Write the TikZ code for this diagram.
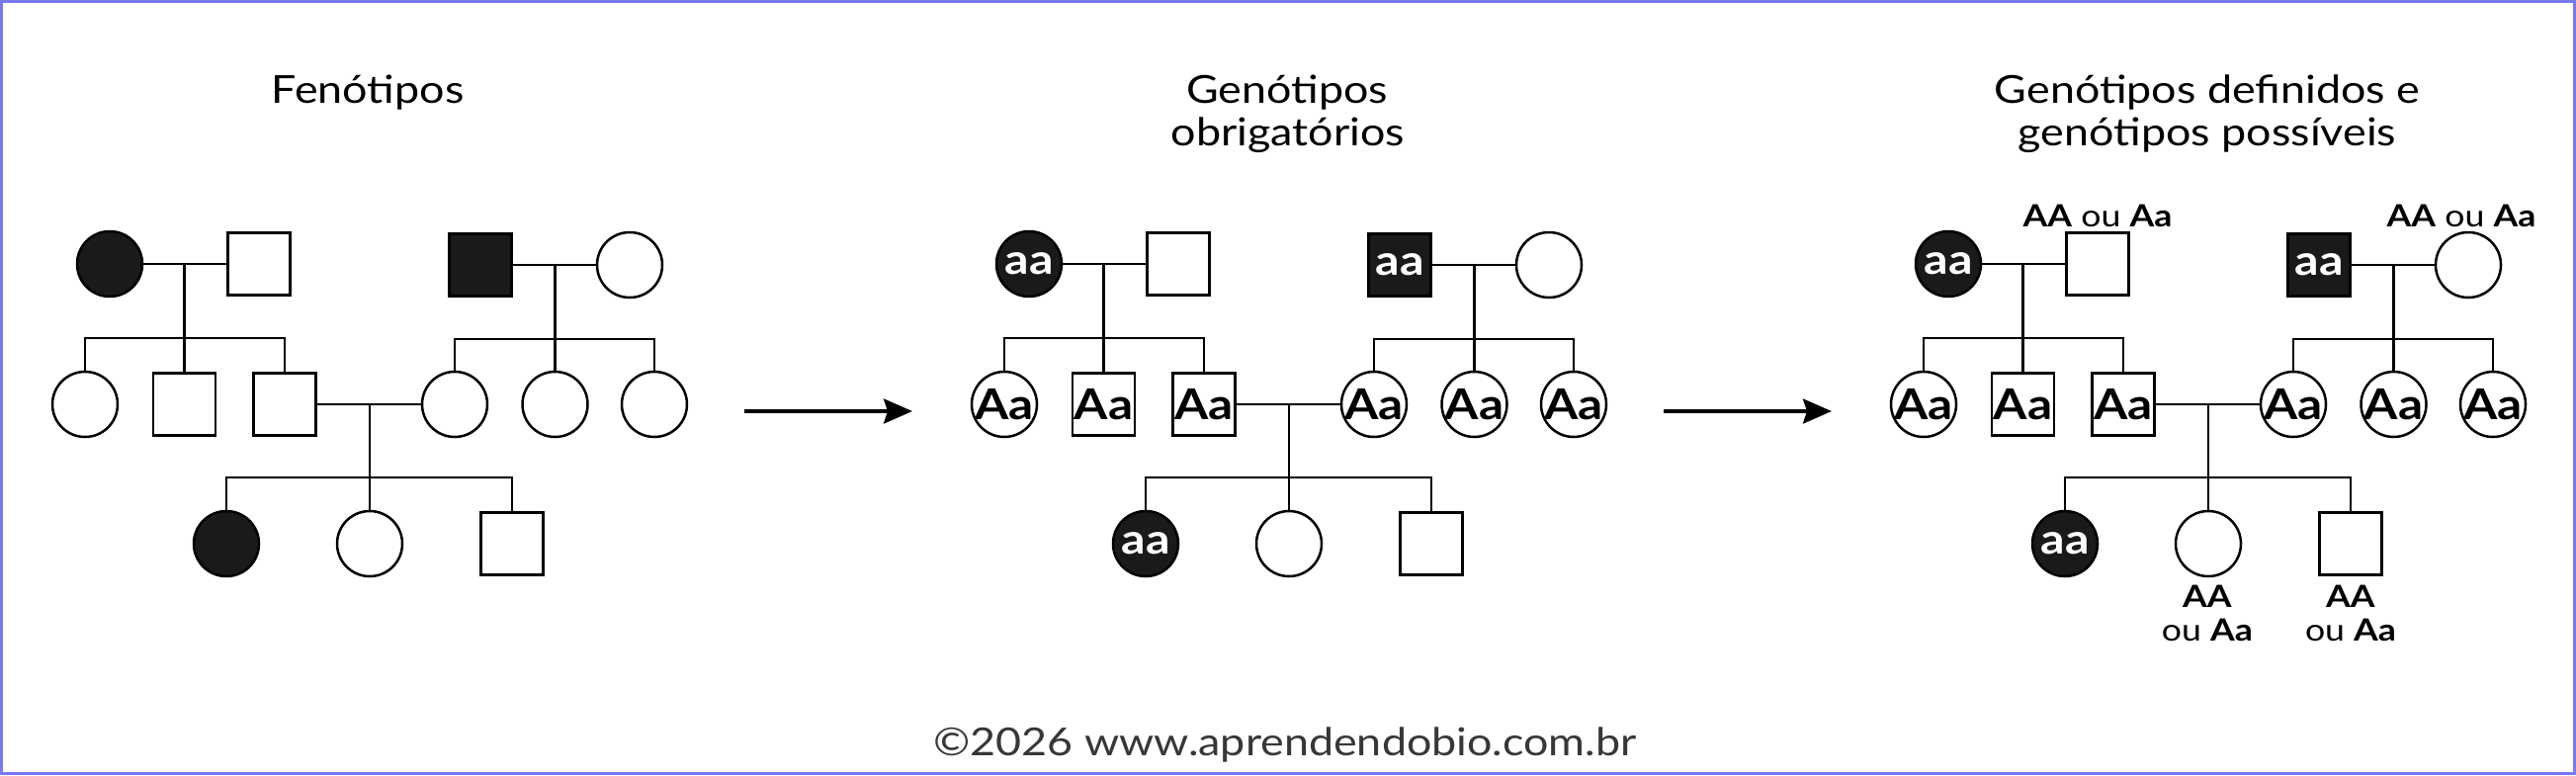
\documentclass[tikz,border=0pt]{standalone}
\usepackage{fontspec}
\setmainfont{Lato}[FakeStretch=1.15]
\usetikzlibrary{arrows.meta,calc}
\definecolor{bordc}{RGB}{120,120,245}
\definecolor{fillc}{RGB}{26,26,26}
\definecolor{footc}{RGB}{55,55,55}
\tikzset{
 fem/.style={circle,draw,line width=2.5pt,minimum size=66pt,inner sep=0pt,fill=white},
 mal/.style={rectangle,draw,line width=2.5pt,minimum size=63pt,inner sep=0pt,fill=white},
 aff/.style={fill=fillc},
 gb/.style={font=\bfseries\fontsize{43}{43}\selectfont,text=black,inner sep=0pt},
 gw/.style={font=\bfseries\fontsize{42}{42}\selectfont,text=white,inner sep=0pt},
 ttl/.style={font=\fontsize{39}{39}\selectfont,anchor=base,inner sep=0pt},
 lbl/.style={font=\fontsize{31}{31}\selectfont,anchor=base,inner sep=0pt},
 foot/.style={font=\fontsize{39}{39}\selectfont,anchor=base,inner sep=0pt,text=footc},
 conn/.style={line width=2.5pt},
 arr/.style={line width=3.5pt,-{Stealth[length=29pt,width=25pt,inset=4pt]}},
}
% #1 prefix, #2 x shift, #3 text of affected, #4 text of carriers
\newcommand\pedpanel[4]{%
\begin{scope}[shift={(#2,0)}]
\node[fem,aff,label={[gw]center:#3}] (#1I1) at (111,267) {};
\node[mal] (#1I2) at (262,267) {};
\node[mal,aff,label={[gw]center:#3}] (#1I3) at (486,268) {};
\node[fem] (#1I4) at (637,268) {};
\node[fem,label={[gb]center:#4}] (#1II1) at (86,409) {};
\node[mal,label={[gb]center:#4}] (#1II2) at (186.5,409) {};
\node[mal,label={[gb]center:#4}] (#1II3) at (288,409) {};
\node[fem,label={[gb]center:#4}] (#1II4) at (460,409) {};
\node[fem,label={[gb]center:#4}] (#1II5) at (561.5,409) {};
\node[fem,label={[gb]center:#4}] (#1II6) at (662,409) {};
\node[fem,aff,label={[gw]center:#3}] (#1III1) at (229,550) {};
\node[fem] (#1III2) at (374,550) {};
\node[mal] (#1III3) at (518,550) {};
\coordinate (#1m1) at ($(#1I1)!0.5!(#1I2)$);
\coordinate (#1m2) at ($(#1I3)!0.5!(#1I4)$);
\coordinate (#1m3) at ($(#1II3)!0.5!(#1II4)$);
\coordinate (#1s1) at (186.5,342);
\coordinate (#1s2) at (561.5,343);
\coordinate (#1s3) at (374,483);
\draw[conn] (#1I1) -- (#1I2);
\draw[conn] (#1I3) -- (#1I4);
\draw[conn] (#1II3) -- (#1II4);
\draw[conn] (#1m1) -- (#1II2.north);
\draw[conn] (#1m2) -- (#1II5.north);
\draw[conn] (#1m3) -- (#1III2.north);
\draw[conn] (#1II1.north) |- (#1s1) -| (#1II3.north);
\draw[conn] (#1II4.north) |- (#1s2) -| (#1II6.north);
\draw[conn] (#1III1.north) |- (#1s3) -| (#1III3.north);
\end{scope}}
\begin{document}
\begin{tikzpicture}[x=1pt,y=-1pt]
\useasboundingbox (0,0) rectangle (2606,784);
\fill[white] (0,0) rectangle (2606,784);
\draw[bordc,line width=3pt] (1.5,1.5) rectangle (2604.5,782.5);
% titles
\node[ttl] (t1) at (372,104) {Fenótipos};
\node[ttl] (t2a) at (1302,104) {Genótipos};
\node[ttl] (t2b) at (1303,147) {obrigatórios};
\node[ttl] (t3a) at (2233,104) {Genótipos definidos e};
\node[ttl] (t3b) at (2233,147) {genótipos possíveis};
% pedigrees
\pedpanel{p}{0}{}{}
\pedpanel{q}{930}{aa}{Aa}
\pedpanel{r}{1860}{aa}{Aa}
% arrows
\coordinate (a1s) at (753,416);
\coordinate (a1e) at (923,416);
\coordinate (a2s) at (1683,416);
\coordinate (a2e) at (1853,416);
\draw[arr] (a1s) -- (a1e);
\draw[arr] (a2s) -- (a2e);
% possible genotypes
\node[lbl] (l1) at (2122,229) {\textbf{AA} ou \textbf{Aa}};
\node[lbl] (l2) at (2490,229) {\textbf{AA} ou \textbf{Aa}};
\node[lbl] (l3) at (2233,614) {\textbf{AA}};
\node[lbl] (l4) at (2233,648) {ou \textbf{Aa}};
\node[lbl] (l5) at (2378,614) {\textbf{AA}};
\node[lbl] (l6) at (2378,648) {ou \textbf{Aa}};
% footer
\node[foot] (ft) at (1300,764) {©2026 www.aprendendobio.com.br};
\end{tikzpicture}
\end{document}
